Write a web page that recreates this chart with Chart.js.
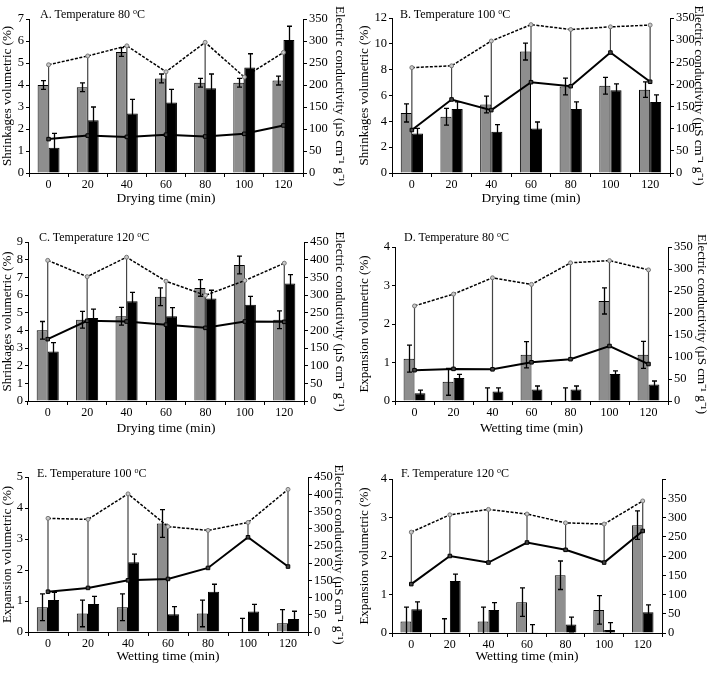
<!DOCTYPE html>
<html>
<head>
<meta charset="utf-8">
<script src="https://cdn.jsdelivr.net/npm/chart.js@4.4.0/dist/chart.umd.min.js"></script>
<style>
    body { margin: 0; background: #fff; width: 711px; height: 676px; position: relative; overflow: hidden; font-family: 'Liberation Serif', 'Times New Roman', serif; }
    canvas { position: absolute; }
    .ttl { position: absolute; font-size: 12px; line-height: 14px; color: #000; white-space: nowrap; }
    .ttl sup { font-size: 8px; vertical-align: 4px; line-height: 0; }
</style>
</head>
<body>
<canvas id="chartA" width="355" height="210" style="left:0;top:0"></canvas>
<canvas id="chartB" width="356" height="210" style="left:355px;top:0"></canvas>
<canvas id="chartC" width="355" height="230" style="left:0;top:210px"></canvas>
<canvas id="chartD" width="356" height="230" style="left:355px;top:210px"></canvas>
<canvas id="chartE" width="355" height="236" style="left:0;top:440px"></canvas>
<canvas id="chartF" width="356" height="236" style="left:355px;top:440px"></canvas>

<div class="ttl" style="left:40px;top:7px">A. Temperature 80 <sup>o</sup>C</div>
<div class="ttl" style="left:400px;top:7px">B. Temperature 100 <sup>o</sup>C</div>
<div class="ttl" style="left:39px;top:230px">C. Temperature 120 <sup>o</sup>C</div>
<div class="ttl" style="left:404px;top:230px">D. Temperature 80 <sup>o</sup>C</div>
<div class="ttl" style="left:37px;top:466px">E. Temperature 100 <sup>o</sup>C</div>
<div class="ttl" style="left:401px;top:466px">F. Temperature 120 <sup>o</sup>C</div>

<script>
// Time points (min)
const times = ['0', '20', '40', '60', '80', '100', '120'];

// A. Drying 80 °C
const aGray = [4.0, 3.9, 5.5, 4.3, 4.1, 4.1, 4.2];
const aGrayErr = [0.2, 0.2, 0.2, 0.2, 0.2, 0.2, 0.2];
const aBlack = [1.15, 2.4, 2.7, 3.2, 3.85, 4.8, 6.05];
const aBlackErr = [0.65, 0.6, 0.65, 0.6, 0.65, 0.62, 0.62];
const aEcHigh = [246, 266, 289, 230, 297, 218, 274];
const aEcLow = [77, 85, 82, 87, 83, 89, 108];

// B. Drying 100 °C
const bGray = [4.65, 4.35, 5.3, 9.4, 6.7, 6.75, 6.45];
const bGrayErr = [0.7, 0.65, 0.65, 0.65, 0.65, 0.65, 0.6];
const bBlack = [3.05, 4.95, 3.2, 3.45, 4.95, 6.4, 5.5];
const bBlackErr = [0.4, 0.55, 0.55, 0.5, 0.55, 0.5, 0.55];
const bEcHigh = [238, 242, 298, 335, 324, 330, 334];
const bEcLow = [97, 166, 142, 205, 196, 272, 206];

// C. Drying 120 °C
const cGray = [4.0, 4.6, 4.8, 5.9, 6.4, 7.7, 4.6];
const cGrayErr = [0.5, 0.47, 0.5, 0.5, 0.47, 0.5, 0.5];
const cBlack = [2.8, 4.7, 5.65, 4.8, 5.8, 5.45, 6.65];
const cBlackErr = [0.5, 0.5, 0.5, 0.48, 0.47, 0.47, 0.5];
const cEcHigh = [398, 352, 407, 339, 299, 341, 390];
const cEcLow = [175, 227, 225, 216, 207, 225, 224];

// D. Wetting 80 °C
const dGray = [1.1, 0.5, 0, 1.2, 0, 2.6, 1.2];
const dGrayErr = [0.35, 0.35, 0.34, 0.34, 0.34, 0.34, 0.35];
const dBlack = [0.2, 0.6, 0.25, 0.3, 0.3, 0.7, 0.43];
const dBlackErr = [0.08, 0.09, 0.09, 0.09, 0.09, 0.08, 0.09];
const dEcHigh = [216, 243, 280, 265, 314, 319, 298];
const dEcLow = [70, 73, 72, 88, 95, 125, 84];

// E. Wetting 100 °C
const eGray = [0.8, 0.6, 0.8, 3.5, 0.6, 0, 0.28];
const eGrayErr = [0.43, 0.43, 0.43, 0.45, 0.43, 0.44, 0.44];
const eBlack = [1.03, 0.9, 2.25, 0.57, 1.3, 0.66, 0.42];
const eBlackErr = [0.25, 0.25, 0.26, 0.25, 0.24, 0.23, 0.25];
const eEcHigh = [330, 327, 401, 306, 295, 318, 414];
const eEcLow = [117, 128, 150, 154, 186, 275, 190];

// F. Wetting 120 °C
const fGray = [0.3, 0, 0.3, 0.8, 1.5, 0.6, 2.8];
const fGrayErr = [0.37, 0.37, 0.37, 0.37, 0.37, 0.37, 0.37];
const fBlack = [0.62, 1.35, 0.6, 0.02, 0.22, 0.08, 0.54];
const fBlackErr = [0.19, 0.18, 0.19, 0.2, 0.19, 0.19, 0.19];
const fEcHigh = [262, 307, 321, 309, 286, 283, 343];
const fEcLow = [127, 200, 183, 235, 216, 183, 265];

const shrinkTitle = 'Shrinkages volumetric (%)';
const expandTitle = 'Expansion volumetric (%)';
const ecTitle = 'Electric conductivity (\u00b5S cm\u207b\u00b9 g\u207b\u00b9)';

Chart.defaults.font.family = "'Liberation Serif', 'Times New Roman', serif";
Chart.defaults.font.size = 12;
Chart.defaults.color = '#000';

// Error bars drawn right after each bar dataset
const errorBars = {
    id: 'errorBars',
    afterDatasetDraw(chart, args) {
        const ds = chart.data.datasets[args.index];
        if (!ds.errors) return;
        const y = chart.scales.y;
        const area = chart.chartArea;
        const ctx = chart.ctx;
        ctx.save();
        ctx.strokeStyle = '#000';
        ctx.lineWidth = 1.3;
        args.meta.data.forEach((bar, i) => {
            const v = ds.data[i];
            const e = ds.errors[i];
            const low = v - e;
            const top = y.getPixelForValue(v + e);
            const bot = Math.min(y.getPixelForValue(Math.max(low, 0)), area.bottom);
            const x = Math.round(bar.x) + 0.5;
            ctx.beginPath();
            ctx.moveTo(x, top);
            ctx.lineTo(x, bot);
            ctx.moveTo(x - 2.5, top);
            ctx.lineTo(x + 2.5, top);
            if (low > 0) {
                ctx.moveTo(x - 2.5, bot);
                ctx.lineTo(x + 2.5, bot);
            }
            ctx.stroke();
        });
        ctx.restore();
    }
};

// Vertical high-low lines between the two conductivity series
const hiLoLines = {
    id: 'hiLoLines',
    beforeDatasetDraw(chart, args) {
        const ds = chart.data.datasets[args.index];
        if (!ds.hiLo) return;
        const hi = chart.getDatasetMeta(args.index).data;
        const lo = chart.getDatasetMeta(args.index + 1).data;
        const ctx = chart.ctx;
        ctx.save();
        ctx.strokeStyle = '#444';
        ctx.lineWidth = 1.2;
        hi.forEach((p, i) => {
            ctx.beginPath();
            ctx.moveTo(p.x, p.y);
            ctx.lineTo(lo[i].x, lo[i].y);
            ctx.stroke();
        });
        ctx.restore();
    }
};

const panels = [
    { id: 'chartA', w: 355, h: 210, L: 29, R: 303, T: 19, B: 173, gray: aGray, grayErr: aGrayErr, black: aBlack, blackErr: aBlackErr, hi: aEcHigh, lo: aEcLow, yMax: 7, yStep: 1, y2Max: 350, yTitle: shrinkTitle, xTitle: 'Drying time (min)', yPad: 0, y2Pad: 8, xPad: 3, showEc: true },
    { id: 'chartB', w: 356, h: 210, L: 37, R: 315, T: 18, B: 173, gray: bGray, grayErr: bGrayErr, black: bBlack, blackErr: bBlackErr, hi: bEcHigh, lo: bEcLow, yMax: 12, yStep: 2, y2Max: 350, yTitle: shrinkTitle, xTitle: 'Drying time (min)', yPad: 2, y2Pad: 5, xPad: 3, showEc: true },
    { id: 'chartC', w: 355, h: 230, L: 28, R: 304, T: 32, B: 191, gray: cGray, grayErr: cGrayErr, black: cBlack, blackErr: cBlackErr, hi: cEcHigh, lo: cEcLow, yMax: 9, yStep: 1, y2Max: 450, yTitle: shrinkTitle, xTitle: 'Drying time (min)', yPad: 0, y2Pad: 8, xPad: 3, showEc: true },
    { id: 'chartD', w: 356, h: 230, L: 40, R: 313, T: 37, B: 191, gray: dGray, grayErr: dGrayErr, black: dBlack, blackErr: dBlackErr, hi: dEcHigh, lo: dEcLow, yMax: 4, yStep: 1, y2Max: 350, yTitle: expandTitle, xTitle: 'Wetting time (min)', yPad: 2, y2Pad: 2, xPad: 3, showEc: true },
    { id: 'chartE', w: 355, h: 236, L: 28, R: 308, T: 37, B: 192, gray: eGray, grayErr: eGrayErr, black: eBlack, blackErr: eBlackErr, hi: eEcHigh, lo: eEcLow, yMax: 5, yStep: 1, y2Max: 450, yTitle: expandTitle, xTitle: 'Wetting time (min)', yPad: 0, y2Pad: 9, xPad: 11, showEc: true },
    { id: 'chartF', w: 356, h: 236, L: 37, R: 307, T: 39, B: 193, gray: fGray, grayErr: fGrayErr, black: fBlack, blackErr: fBlackErr, hi: fEcHigh, lo: fEcLow, yMax: 4, yStep: 1, y2Max: 400, yTitle: expandTitle, xTitle: 'Wetting time (min)', yPad: 2, y2Pad: 8, xPad: 11, showEc: false }
];

panels.forEach(p => {
    const ctx = document.getElementById(p.id).getContext('2d');
    new Chart(ctx, {
        type: 'bar',
        data: {
            labels: times,
            datasets: [
                {
                    type: 'line', data: p.hi, yAxisID: 'y2', order: 1, hiLo: true,
                    borderColor: '#000', borderWidth: 1.5, borderDash: [3, 1.5],
                    pointStyle: 'circle', pointRadius: 2, pointBackgroundColor: '#c8c8c8',
                    pointBorderColor: '#777', pointBorderWidth: 1
                },
                {
                    type: 'line', data: p.lo, yAxisID: 'y2', order: 0,
                    borderColor: '#000', borderWidth: 2,
                    pointStyle: 'rect', pointRadius: 2.5, pointBackgroundColor: '#444',
                    pointBorderColor: '#000', pointBorderWidth: 1
                },
                {
                    data: p.gray, errors: p.grayErr, yAxisID: 'y', order: 2,
                    backgroundColor: '#8e8e8e', borderColor: '#000', borderWidth: 1,
                    categoryPercentage: 0.56, barPercentage: 1
                },
                {
                    data: p.black, errors: p.blackErr, yAxisID: 'y', order: 2,
                    backgroundColor: '#000', borderColor: '#000', borderWidth: 1,
                    categoryPercentage: 0.56, barPercentage: 1
                }
            ]
        },
        options: {
            responsive: false,
            animation: false,
            layout: { padding: { top: p.T, left: 0, right: 0, bottom: 0 } },
            plugins: { legend: { display: false }, tooltip: { enabled: false } },
            elements: { line: { tension: 0 } },
            scales: {
                x: {
                    offset: true,
                    grid: { offset: true, drawOnChartArea: false, drawTicks: true, tickLength: 4, color: '#000' },
                    border: { display: true, color: '#000', width: 1 },
                    ticks: { padding: 1, font: { size: 12 }, maxRotation: 0, autoSkip: false },
                    title: { display: true, text: p.xTitle, font: { size: 13.5 }, padding: { top: 0, bottom: p.xPad } },
                    afterFit: s => { s.height = p.h - p.B; }
                },
                y: {
                    position: 'left',
                    min: 0, max: p.yMax,
                    ticks: { stepSize: p.yStep, padding: 2, font: { size: 12.5 }, autoSkip: false },
                    grid: { drawOnChartArea: false, drawTicks: true, tickLength: 3, color: '#000' },
                    border: { display: true, color: '#000', width: 1 },
                    title: { display: true, text: p.yTitle, font: { size: 13 }, padding: { top: p.yPad, bottom: 0 } },
                    afterFit: s => { s.width = p.L; }
                },
                y2: {
                    position: 'right',
                    min: 0, max: p.y2Max,
                    ticks: { stepSize: 50, padding: 2, font: { size: 12.5 }, autoSkip: false, callback: v => (v === 400 && !p.showEc) ? '' : v },
                    grid: { drawOnChartArea: false, drawTicks: true, tickLength: 4, color: '#000' },
                    border: { display: true, color: '#000', width: 1 },
                    title: { display: p.showEc, text: ecTitle, font: { size: 13 }, padding: { top: p.y2Pad, bottom: 0 } },
                    afterFit: s => { s.width = p.w - p.R; }
                }
            }
        },
        plugins: [errorBars, hiLoLines]
    });
});
</script>
</body>
</html>
